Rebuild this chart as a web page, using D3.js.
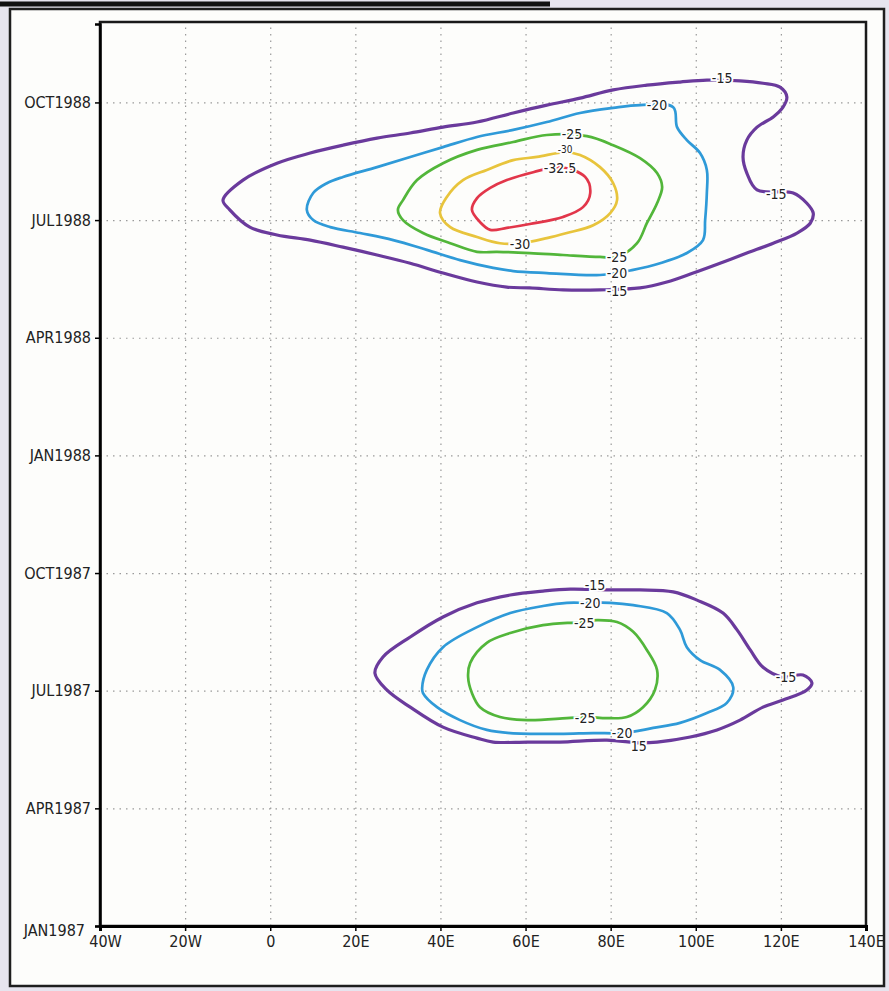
<html>
<head>
<script src="https://d3js.org/d3.v7.min.js"></script>
<style>
body { margin: 0; background: #e6e4ee; }
svg { display: block; }
.tick text { font-family: "Liberation Sans Narrow", "DejaVu Sans Condensed", sans-serif; font-stretch: condensed; font-size: 16px; fill: #222; }
.grid line { stroke: #9a9a9a; stroke-width: 1.2; stroke-dasharray: 1.5,5; }
.clab { font-family: "Liberation Sans Narrow", "DejaVu Sans Condensed", sans-serif; font-stretch: condensed; font-size: 14px; fill: #222;
        stroke: #fff; stroke-width: 3.5px; paint-order: stroke; }
</style>
</head>
<body>
<div id="chart"></div>
<script>

// axis ticks
var lonTicks = [-40, -20, 0, 20, 40, 60, 80, 100, 120, 140];
var lonLabels = ["40W", "20W", "0", "20E", "40E", "60E", "80E", "100E", "120E", "140E"];
var monthTicks = [0, 3, 6, 9, 12, 15, 18, 21];
var monthLabels = ["JAN1987", "APR1987", "JUL1987", "OCT1987", "JAN1988", "APR1988", "JUL1988", "OCT1988"];

// contour lines: [longitude, months since Jan 1987]
var c1988_15 = [[-11.1,18.51],[-6.4,19.02],[1.6,19.45],[9.4,19.71],[17.1,19.91],[25.1,20.09],[32.9,20.22],[40.6,20.37],[48.6,20.50],[57.1,20.73],[65.0,20.93],[72.8,21.11],[80.6,21.32],[88.5,21.44],[96.3,21.52],[102.6,21.57],[110.4,21.55],[115.8,21.49],[119.8,21.39],[121.4,21.14],[120.5,20.88],[118.2,20.63],[114.4,20.37],[112.0,20.04],[111.1,19.61],[112.0,19.20],[114.4,18.77],[122.9,18.69],[126.1,18.43],[127.6,18.18],[126.9,17.92],[123.8,17.67],[118.2,17.41],[112.0,17.16],[105.7,16.90],[99.4,16.65],[93.2,16.42],[86.9,16.27],[77.5,16.22],[68.8,16.22],[61.0,16.27],[55.6,16.29],[48.6,16.42],[40.6,16.65],[32.9,16.90],[25.1,17.11],[17.1,17.31],[9.4,17.49],[1.6,17.62],[-4.8,17.82],[-9.5,18.26]];
var c1988_20 = [[8.6,18.26],[10.1,18.69],[13.3,18.94],[17.1,19.10],[25.1,19.35],[32.9,19.61],[40.6,19.86],[48.6,20.12],[57.1,20.30],[65.0,20.50],[72.8,20.73],[80.6,20.86],[86.9,20.93],[94.7,20.88],[95.6,20.37],[97.9,20.04],[101.0,19.71],[102.6,19.28],[102.6,18.69],[102.2,18.00],[101.7,17.49],[97.9,17.16],[91.6,16.90],[85.3,16.73],[77.5,16.60],[65.0,16.65],[57.1,16.70],[52.4,16.78],[44.6,16.98],[36.8,17.24],[28.9,17.49],[21.1,17.67],[14.1,17.82],[10.1,18.00]];
var c1988_25 = [[30.0,18.26],[31.2,18.51],[34.5,19.02],[40.6,19.45],[48.6,19.79],[57.1,19.99],[65.0,20.17],[74.4,20.14],[80.6,19.91],[86.9,19.58],[90.9,19.20],[92.1,18.84],[90.9,18.43],[88.5,17.92],[86.2,17.41],[81.5,17.06],[77.5,17.06],[68.8,17.11],[61.0,17.16],[53.3,17.19],[48.6,17.19],[42.3,17.41],[35.9,17.67],[31.2,18.00]];
var c1988_30 = [[39.9,18.18],[41.5,18.59],[45.3,19.02],[50.9,19.28],[57.1,19.53],[62.7,19.61],[69.3,19.73],[72.8,19.66],[77.5,19.35],[80.6,18.94],[81.5,18.51],[79.9,18.18],[75.9,17.87],[69.7,17.67],[65.0,17.54],[58.7,17.41],[54.0,17.41],[48.6,17.57],[42.3,17.82]];
var c1988_325 = [[47.4,18.26],[48.6,18.56],[51.7,18.82],[55.6,19.02],[61.8,19.22],[68.1,19.35],[74.0,19.10],[75.2,18.69],[73.5,18.33],[68.8,18.08],[61.0,17.90],[55.6,17.80],[51.7,17.75],[49.3,17.95]];
var c1987_15 = [[24.6,6.45],[26.5,6.86],[32.9,7.37],[40.6,7.88],[48.6,8.24],[56.4,8.44],[64.1,8.54],[70.5,8.59],[79.1,8.57],[86.9,8.57],[94.7,8.52],[100.3,8.31],[106.4,7.98],[109.7,7.55],[112.8,7.04],[115.8,6.60],[120.5,6.35],[125.2,6.40],[127.3,6.20],[126.1,6.02],[120.5,5.76],[115.8,5.58],[110.4,5.25],[105.0,5.00],[98.7,4.82],[90.9,4.69],[86.9,4.67],[79.1,4.74],[68.1,4.69],[60.4,4.69],[52.4,4.69],[48.6,4.79],[40.6,5.07],[32.9,5.58],[27.4,6.02]];
var c1987_20 = [[35.7,6.07],[36.8,6.53],[40.6,7.11],[48.6,7.62],[56.4,7.98],[64.1,8.16],[69.7,8.24],[74.4,8.24],[79.9,8.24],[85.3,8.18],[93.2,7.98],[96.3,7.55],[97.9,7.11],[101.0,6.78],[105.7,6.53],[108.8,6.09],[107.3,5.69],[102.6,5.43],[96.3,5.18],[90.0,5.05],[82.9,4.92],[75.9,4.92],[68.1,4.90],[56.4,4.92],[50.9,5.00],[44.6,5.25],[39.2,5.58],[35.9,5.94]];
var c1987_25 = [[46.5,6.35],[47.0,6.71],[50.9,7.22],[56.4,7.47],[64.1,7.67],[72.8,7.75],[76.8,7.80],[81.5,7.75],[85.3,7.50],[88.5,7.04],[90.9,6.53],[90.4,6.02],[87.6,5.58],[83.8,5.33],[79.1,5.30],[74.4,5.33],[69.7,5.30],[60.4,5.25],[54.0,5.33],[49.3,5.58],[47.4,5.94]];

var contourLevels = [-15, -20, -25, -30, -32.5, -15, -20, -25];
var contourLines = [c1988_15, c1988_20, c1988_25, c1988_30, c1988_325, c1987_15, c1987_20, c1987_25];

// contour labels: [longitude, months, text]
var labelLon = [106.2, 90.9, 70.9, 69.3, 68.1, 118.9, 58.7, 81.5, 81.5, 81.5, 76.3, 75.2, 73.8, 121.2, 74.0, 82.7, 86.6];
var labelMonth = [21.62, 20.93, 20.19, 19.79, 19.33, 18.66, 17.39, 17.05, 16.65, 16.20, 8.69, 8.24, 7.73, 6.35, 5.30, 4.92, 4.60];
var labelText = ["-15", "-20", "-25", "-30", "-32.5", "-15", "-30", "-25", "-20", "-15", "-15", "-20", "-25", "-15", "-25", "-20", "15"];

var levelColor = {"-15": "#6a3a9c", "-20": "#2f9ad8", "-25": "#52b63a", "-30": "#e8c43c", "-32.5": "#e2364a"};

var W = 889, H = 991;
var plotL = 100, plotR = 866, plotT = 22, plotB = 926;

var x = d3.scaleLinear().domain([-40, 140]).range([plotL, plotR]);
var y = d3.scaleLinear().domain([0, 23]).range([plotB, 24]);

var svg = d3.select("#chart").append("svg")
  .attr("width", W)
  .attr("height", H);

// paper
svg.append("rect").attr("x", 10).attr("y", 9).attr("width", 874).attr("height", 977).attr("fill", "#fdfdfb");

// grid lines
svg.append("g")
  .attr("class", "grid")
  .attr("transform", "translate(0," + plotB + ")")
  .call(d3.axisBottom(x).tickValues(lonTicks.slice(1, -1)).tickSize(-(plotB - plotT)).tickFormat(""))
  .call(function(g) { g.select(".domain").remove(); });
svg.append("g")
  .attr("class", "grid")
  .attr("transform", "translate(" + plotL + ",0)")
  .call(d3.axisLeft(y).tickValues(monthTicks.slice(1)).tickSize(-(plotR - plotL)).tickFormat(""))
  .call(function(g) { g.select(".domain").remove(); });

// contours
var line = d3.line()
  .x(function(d) { return x(d[0]); })
  .y(function(d) { return y(d[1]); })
  .curve(d3.curveCatmullRomClosed.alpha(0.5));

contourLines.forEach(function(pts, i) {
  var lev = contourLevels[i];
  svg.append("path")
    .datum(pts)
    .attr("d", line)
    .attr("fill", "none")
    .attr("stroke", levelColor[lev])
    .attr("stroke-width", lev == -15 ? 3.2 : 2.7)
    .attr("stroke-linejoin", "round");
});

// contour labels
labelText.forEach(function(t, i) {
  svg.append("text")
    .attr("class", "clab")
    .attr("x", x(labelLon[i]))
    .attr("y", y(labelMonth[i]))
    .attr("dy", "0.36em")
    .attr("text-anchor", "middle")
    .style("font-size", t == "-30" && i == 3 ? "10px" : null)
    .text(t);
});

// frame
svg.append("rect")
  .attr("x", plotL).attr("y", plotT)
  .attr("width", plotR - plotL).attr("height", plotB - plotT)
  .attr("fill", "none").attr("stroke", "#1a1a1a").attr("stroke-width", 2.5);

// axes
var xAxis = svg.append("g")
  .attr("transform", "translate(0," + plotB + ")")
  .call(d3.axisBottom(x).tickValues(lonTicks).tickSize(5).tickPadding(5)
    .tickFormat(function(d, i) { return lonLabels[i]; }));
xAxis.select(".domain").attr("stroke-width", 3);
xAxis.selectAll(".tick line").attr("stroke-width", 1.5);
xAxis.selectAll(".tick").filter(function(d) { return d == -40; }).select("text").attr("dx", "5px");

var yAxis = svg.append("g")
  .attr("transform", "translate(" + plotL + ",0)")
  .call(d3.axisLeft(y).tickValues(monthTicks).tickSize(5).tickPadding(4)
    .tickFormat(function(d, i) { return monthLabels[i]; }));
yAxis.select(".domain").attr("stroke-width", 2.5);
yAxis.selectAll(".tick line").attr("stroke-width", 1.5);
yAxis.selectAll(".tick").filter(function(d) { return d == 0; }).select("text")
  .attr("dy", "0.6em").attr("dx", "-6px");

// outer border of the sheet
svg.append("rect").attr("x", 884).attr("y", 0).attr("width", 5).attr("height", H).attr("fill", "#e6e4ee");
svg.append("rect")
  .attr("x", 10).attr("y", 9).attr("width", 874).attr("height", 977)
  .attr("fill", "none").attr("stroke", "#1e1e1e").attr("stroke-width", 2.5);
svg.append("line")
  .attr("x1", 0).attr("x2", 550).attr("y1", 4).attr("y2", 4)
  .attr("stroke", "#111").attr("stroke-width", 5);

</script>
</body>
</html>
